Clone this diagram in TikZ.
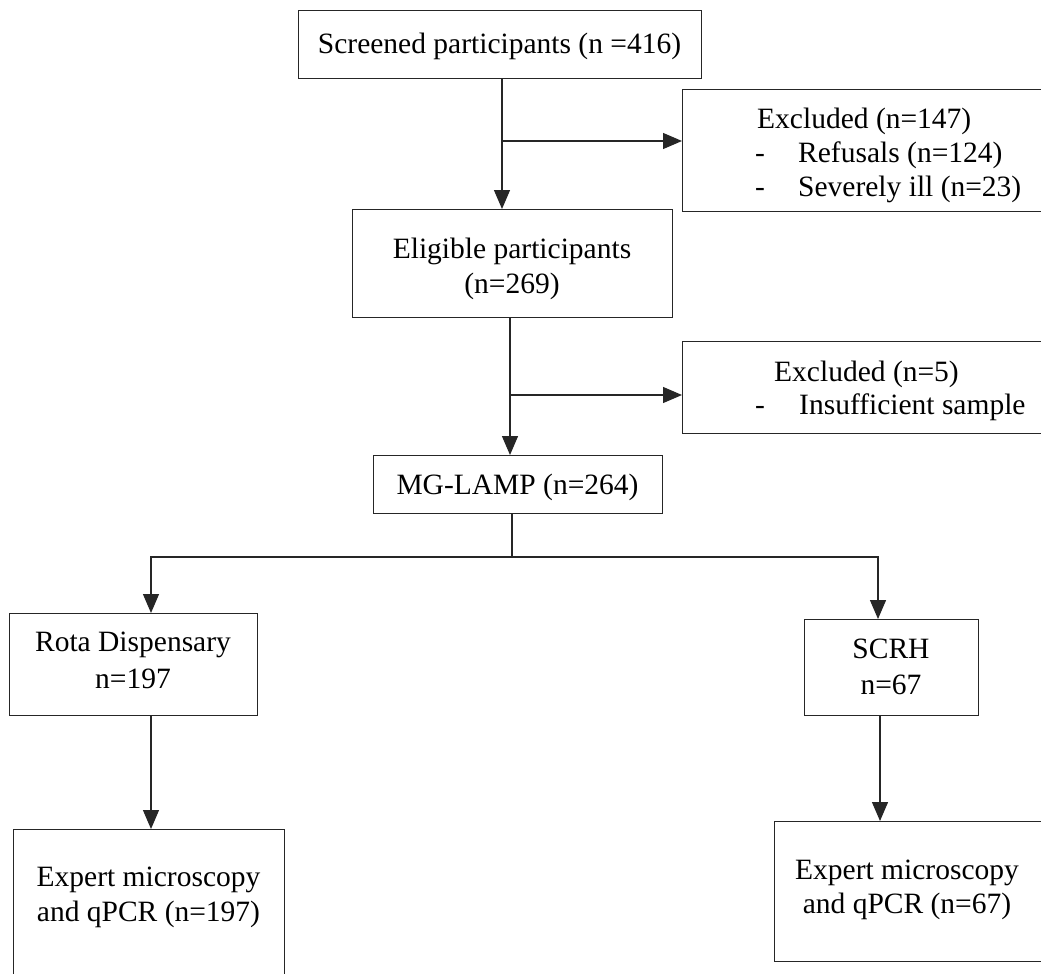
\documentclass[tikz,border=0pt]{standalone}
\usepackage{fontspec}
\setmainfont{Liberation Serif}
\usetikzlibrary{arrows.meta,calc}
\begin{document}
\begin{tikzpicture}[x=1pt,y=-1pt,
  box/.style={draw=black!85, line width=1.3pt, rectangle, inner sep=0pt, anchor=north west},
  txt/.style={inner sep=0pt, font=\fontsize{29.5}{35}\selectfont},
  arr/.style={draw=black!85, line width=1.3pt, -{Triangle[length=19pt,width=16pt]}},
  ln/.style={draw=black!85, line width=1.3pt}]
\clip (0,0) rectangle (1041,974);
\fill[white] (0,0) rectangle (1041,974);
% boxes
\node[box, minimum width=403pt, minimum height=68pt] (scr) at (298,10) {};
\node[box, minimum width=364pt, minimum height=122pt] (ex1) at (682,89) {};
\node[box, minimum width=320pt, minimum height=108pt] (elig) at (352,209) {};
\node[box, minimum width=364pt, minimum height=92pt] (ex2) at (682,341) {};
\node[box, minimum width=289pt, minimum height=58pt] (mg) at (373,455) {};
\node[box, minimum width=248pt, minimum height=102pt] (rota) at (9,613) {};
\node[box, minimum width=174pt, minimum height=96pt] (scrh) at (804,619) {};
\node[box, minimum width=271pt, minimum height=170pt] (expl) at (13,829) {};
\node[box, minimum width=272pt, minimum height=140pt] (expr) at (774,821) {};
% texts
\node[txt, anchor=base] (scr-t) at (499.5,54) {Screened participants (n =416)};
\node[txt, anchor=base west] (ex1-a) at (757,128) {Excluded (n=147)};
\node[txt, anchor=base west] (ex1-b) at (755,162) {-};
\node[txt, anchor=base west] (ex1-c) at (798,162) {Refusals (n=124)};
\node[txt, anchor=base west] (ex1-d) at (755,196) {-};
\node[txt, anchor=base west] (ex1-e) at (798,196) {Severely ill (n=23)};
\node[txt, anchor=base] (elig-a) at (512,258) {Eligible participants};
\node[txt, anchor=base] (elig-b) at (512,293) {(n=269)};
\node[txt, anchor=base west] (ex2-a) at (774,381) {Excluded (n=5)};
\node[txt, anchor=base west] (ex2-b) at (755,414) {-};
\node[txt, anchor=base west] (ex2-c) at (799,414) {Insufficient sample};
\node[txt, anchor=base] (mg-t) at (517.5,494) {MG-LAMP (n=264)};
\node[txt, anchor=base] (rota-a) at (133,651) {Rota Dispensary};
\node[txt, anchor=base] (rota-b) at (133,688) {n=197};
\node[txt, anchor=base] (scrh-a) at (891,658) {SCRH};
\node[txt, anchor=base] (scrh-b) at (891,694) {n=67};
\node[txt, anchor=base] (expl-a) at (148.5,886) {Expert microscopy};
\node[txt, anchor=base] (expl-b) at (148.5,921) {and qPCR (n=197)};
\node[txt, anchor=base] (expr-a) at (907,879) {Expert microscopy};
\node[txt, anchor=base] (expr-b) at (907,913) {and qPCR (n=67)};
% connector points
\coordinate (b1) at (502,141);
\coordinate (b2) at (510,395);
\coordinate (j) at (512,557);
\coordinate (jl) at (151,557);
\coordinate (jr) at (878,557);
\coordinate (k) at (880,760);
% connectors
\draw[arr] (b1 |- scr.south) -- (b1 |- elig.north);
\draw[arr] (b1) -- (b1 -| ex1.west);
\draw[arr] (b2 |- elig.south) -- (b2 |- mg.north);
\draw[arr] (b2) -- (b2 -| ex2.west);
\draw[ln] (j |- mg.south) -- (j);
\draw[ln, {Triangle[length=19pt,width=16pt]}-{Triangle[length=19pt,width=16pt]}] (jl |- rota.north) -- (jl) -- (jr) -- (jr |- scrh.north);
\draw[arr] (jl |- rota.south) -- (jl |- expl.north);
\draw[arr] (k |- scrh.south) -- (k |- expr.north);
\end{tikzpicture}
\end{document}
